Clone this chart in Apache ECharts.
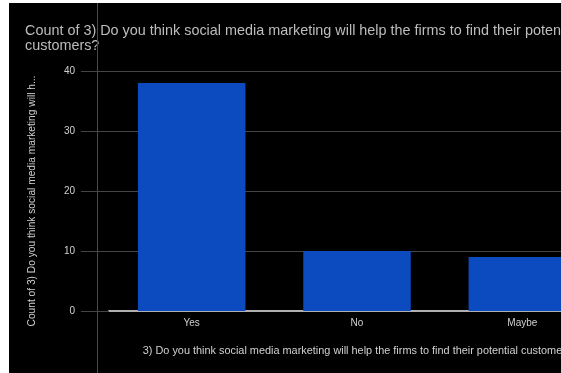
<!DOCTYPE html>
<html>
<head>
<meta charset="utf-8">
<script src="https://cdn.jsdelivr.net/npm/echarts@6/dist/echarts.min.js"></script>
<style>
  html, body { margin: 0; padding: 0; background: #000; overflow: hidden; width: 561px; height: 373px; }
  #chart { width: 640px; height: 373px; }
</style>
</head>
<body>
<div id="chart"></div>
<script>
// Survey answers and their counts
const categories = ['Yes', 'No', 'Maybe'];
const counts = [38, 10, 9];
const yTicks = { min: 0, max: 40, interval: 10 };

const titleText = 'Count of 3) Do you think social media marketing will help the firms to find their potential\ncustomers?';
const xName = '3) Do you think social media marketing will help the firms to find their potential customers';
const yName = 'Count of 3) Do you think social media marketing will h...';

const chart = echarts.init(document.getElementById('chart'), null, { renderer: 'canvas' });
const font = 'Liberation Sans, Arial, sans-serif';

chart.setOption({
  backgroundColor: '#000',
  animation: false,
  title: {
    text: titleText,
    left: 25,
    top: 24,
    padding: 0,
    textStyle: { color: '#bdbdbd', fontSize: 14.4, fontWeight: 'normal', fontFamily: font, lineHeight: 15 }
  },
  graphic: [
    { type: 'rect', left: 0, top: 0, shape: { width: 9, height: 373 }, style: { fill: '#fff' }, z: 100 },
    { type: 'rect', left: 0, top: 0, shape: { width: 640, height: 3 }, style: { fill: '#fff' }, z: 100 },
    { type: 'line', shape: { x1: 97.5, y1: 3, x2: 97.5, y2: 373 }, style: { stroke: '#4a4a4a', lineWidth: 1 }, z: 50 }
  ],
  grid: { left: 109, top: 71, width: 496, height: 240 },
  xAxis: {
    type: 'category',
    data: categories,
    name: xName,
    nameLocation: 'middle',
    nameGap: 34,
    nameTextStyle: { color: '#d0d0d0', fontSize: 10.9, fontFamily: font },
    axisLine: { lineStyle: { color: '#b0b0b0', width: 2 } },
    axisTick: { show: false },
    axisLabel: { color: '#d0d0d0', fontSize: 10, fontFamily: font, margin: 7 }
  },
  yAxis: {
    type: 'value',
    min: yTicks.min,
    max: yTicks.max,
    interval: yTicks.interval,
    name: yName,
    nameLocation: 'middle',
    nameGap: 72,
    nameTextStyle: { color: '#d0d0d0', fontSize: 10.2, fontFamily: font, padding: [0, 20, 0, 0] },
    axisLine: { show: false },
    axisTick: { show: true, length: 28, lineStyle: { color: '#444', width: 1 } },
    axisLabel: { color: '#d0d0d0', fontSize: 10, fontFamily: font, margin: 34 },
    splitLine: { lineStyle: { color: '#444', width: 1 } }
  },
  series: [{
    type: 'bar',
    data: counts,
    barCategoryGap: '35%',
    itemStyle: { color: '#0c4bbf' }
  }]
});
</script>
</body>
</html>
